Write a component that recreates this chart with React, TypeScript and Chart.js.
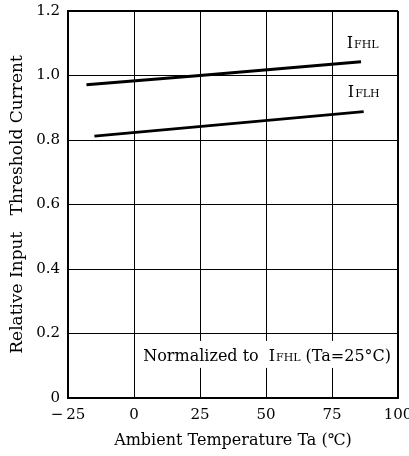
import React, { useEffect, useRef } from "react";
import { Chart, registerables } from "chart.js";

Chart.register(...registerables);

const FONT = "'DejaVu Serif', 'Liberation Serif', serif";

// Series data (Ambient temperature in °C, relative input threshold current)
const ifhlTemps = [-18, 25, 86];
const ifhlValues = [0.971, 1.0, 1.043];
const iflhTemps = [-15, 87];
const iflhValues = [0.812, 0.888];

// Tick labels
const xTickLabels = ["\u2212\u200925", "0", "25", "50", "75", "100"];
const yTickLabels = ["0", "0.2", "0.4", "0.6", "0.8", "1.0", "1.2"];

// Texts
const seriesNames = ["FHL", "FLH"];
const noteBefore = "Normalized to";
const noteSub = "FHL";
const noteAfter = "(Ta=25°C)";
const xTitle = "Ambient Temperature Ta (\u2103)";
const yTitle = "Relative Input   Threshold Current";

const toPoints = (xs: number[], ys: number[]) => xs.map((x, i) => ({ x, y: ys[i] }));

const textPlugin = {
  id: "textLabels",
  afterDatasetsDraw(chart: any) {
    const { ctx } = chart;
    const xs = chart.scales.x;
    const ys = chart.scales.y;
    const big = `16px ${FONT}`;
    const small = `11px ${FONT}`;
    ctx.save();
    ctx.fillStyle = "#000";
    ctx.textBaseline = "alphabetic";
    ctx.textAlign = "left";

    const drawIsub = (px: number, py: number, sub: string) => {
      ctx.font = big;
      ctx.fillText("I", px, py);
      const w = ctx.measureText("I").width;
      ctx.font = small;
      ctx.fillText(sub, px + w + 1, py);
      return w + 1 + ctx.measureText(sub).width;
    };

    // series labels
    const anchors = [
      { x: 80.6, y: 1.085 },
      { x: 81, y: 0.933 },
    ];
    seriesNames.forEach((name, i) => {
      drawIsub(xs.getPixelForValue(anchors[i].x), ys.getPixelForValue(anchors[i].y), name);
    });

    // normalization note with white box
    const nx = xs.getPixelForValue(3.5);
    const ny = ys.getPixelForValue(0.115);
    ctx.font = big;
    const w1 = ctx.measureText(noteBefore).width;
    const wI = ctx.measureText("I").width;
    const w3 = ctx.measureText(noteAfter).width;
    ctx.font = small;
    const wS = ctx.measureText(noteSub).width;
    const gap1 = 10;
    const gap2 = 5;
    const total = w1 + gap1 + wI + 1 + wS + gap2 + w3;
    ctx.fillStyle = "#fff";
    ctx.fillRect(nx - 5, ny - 20, total + 8, 27);
    ctx.fillStyle = "#000";
    ctx.font = big;
    ctx.fillText(noteBefore, nx, ny);
    drawIsub(nx + w1 + gap1, ny, noteSub);
    ctx.font = big;
    ctx.fillText(noteAfter, nx + w1 + gap1 + wI + 1 + wS + gap2, ny);
    ctx.restore();
  },
};

export default function App() {
  const ref = useRef<HTMLCanvasElement | null>(null);

  useEffect(() => {
    if (!ref.current) return;
    const chart = new Chart(ref.current, {
      type: "line",
      data: {
        datasets: [
          {
            label: "IFHL",
            data: toPoints(ifhlTemps, ifhlValues),
            borderColor: "#000",
            borderWidth: 3,
            pointRadius: 0,
            fill: false,
            tension: 0,
          },
          {
            label: "IFLH",
            data: toPoints(iflhTemps, iflhValues),
            borderColor: "#000",
            borderWidth: 3,
            pointRadius: 0,
            fill: false,
            tension: 0,
          },
        ],
      },
      options: {
        animation: false,
        responsive: false,
        layout: { padding: { left: 0, right: 11, top: 11, bottom: 0 } },
        plugins: {
          legend: { display: false },
          tooltip: { enabled: false },
        },
        scales: {
          x: {
            type: "linear",
            min: -25,
            max: 100,
            ticks: {
              stepSize: 25,
              autoSkip: false,
              maxRotation: 0,
              padding: 8,
              color: "#000",
              font: { family: FONT, size: 15 },
              callback: (_v: any, i: number) => xTickLabels[i],
            },
            grid: {
              color: "#000",
              lineWidth: (c: any) => (c.index === 5 ? 2 : 1),
              drawTicks: false,
            },
            border: { color: "#000", width: 2 },
            title: {
              display: true,
              text: xTitle,
              color: "#000",
              font: { family: FONT, size: 16 },
              padding: { top: 0, bottom: 6 },
            },
            afterFit: (s: any) => {
              s.height = 58;
              s.paddingLeft = 0;
              s.paddingRight = 0;
            },
          },
          y: {
            type: "linear",
            min: 0,
            max: 1.2,
            ticks: {
              stepSize: 0.2,
              padding: 8,
              color: "#000",
              font: { family: FONT, size: 15 },
              callback: (_v: any, i: number) => yTickLabels[i],
            },
            grid: {
              color: "#000",
              lineWidth: (c: any) => (c.index === 6 ? 2 : 1),
              drawTicks: false,
            },
            border: { color: "#000", width: 2 },
            title: {
              display: true,
              text: yTitle,
              color: "#000",
              font: { family: FONT, size: 17 },
              padding: { top: 7, bottom: 0 },
            },
            afterFit: (s: any) => {
              s.width = 68;
              s.paddingTop = 0;
              s.paddingBottom = 0;
            },
          },
        },
      },
      plugins: [textPlugin],
    });
    return () => chart.destroy();
  }, []);

  return (
    <div style={{ position: "absolute", left: 0, top: 0, width: 409, height: 456, background: "#fff" }}>
      <canvas ref={ref} width={409} height={456} />
    </div>
  );
}
